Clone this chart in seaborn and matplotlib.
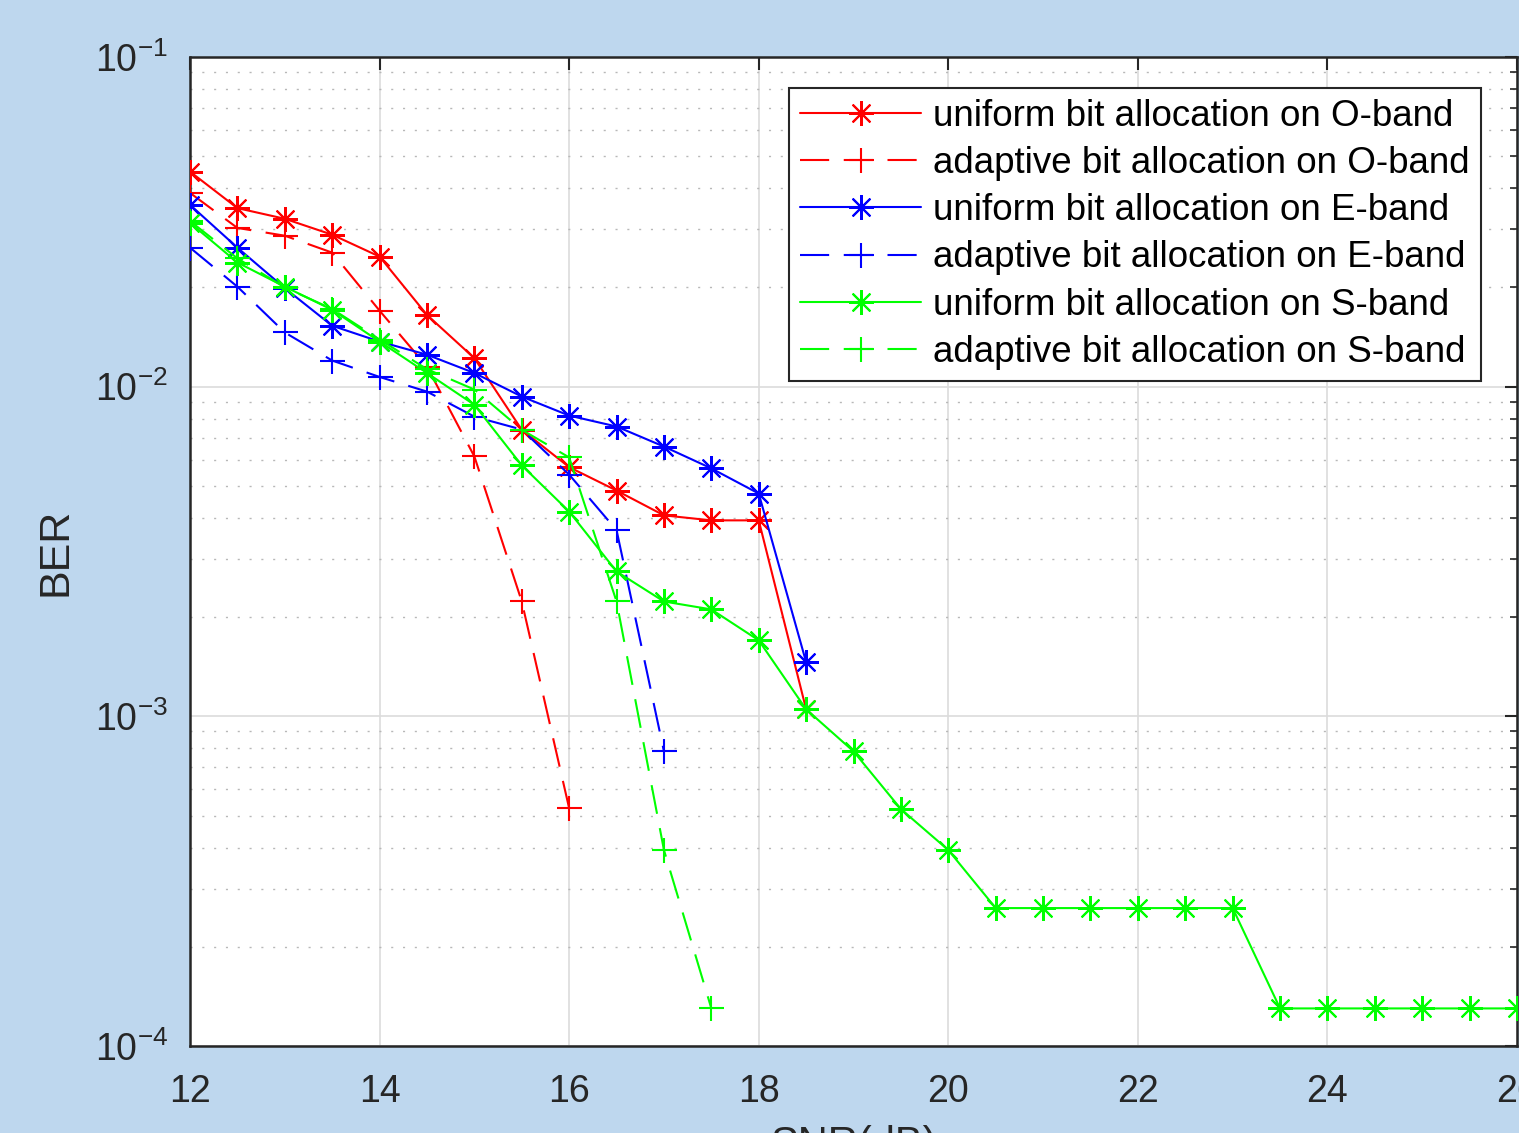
import numpy as np
import pandas as pd
import seaborn as sns
import matplotlib.pyplot as plt
from matplotlib.ticker import LogLocator, FixedLocator

# SNR grids
snr_short = [12, 12.5, 13, 13.5, 14, 14.5, 15, 15.5, 16, 16.5, 17, 17.5, 18, 18.5]
snr_long = [12, 12.5, 13, 13.5, 14, 14.5, 15, 15.5, 16, 16.5, 17, 17.5, 18, 18.5,
            19, 19.5, 20, 20.5, 21, 21.5, 22, 22.5, 23, 23.5, 24, 24.5, 25, 25.5, 26]

# BER
ber_uni_o = [0.0449, 0.0348, 0.0323, 0.0289, 0.0248, 0.0165, 0.0122, 0.0074,
             0.0057, 0.00484, 0.00407, 0.00393, 0.00393, 0.00105]
ber_ada_o = [0.0387, 0.0303, 0.0287, 0.0255, 0.0170, 0.0115, 0.00614, 0.00223, 0.000526]
ber_uni_e = [0.0356, 0.0264, 0.0199, 0.0153, 0.0137, 0.0125, 0.0110, 0.00933,
             0.00817, 0.00757, 0.00658, 0.00565, 0.00474, 0.00146]
ber_ada_e = [0.0264, 0.0201, 0.0146, 0.0120, 0.0107, 0.00966, 0.00811, 0.00741,
             0.00541, 0.00367, 0.000783]
ber_uni_s = [0.0314, 0.0238, 0.0201, 0.0171, 0.0137, 0.0110, 0.00881, 0.00577,
             0.00418, 0.00275, 0.00223, 0.00211, 0.00170, 0.00105, 0.000783,
             0.000523, 0.000393, 0.000262, 0.000262, 0.000262, 0.000262, 0.000262,
             0.000262, 0.000130, 0.000130, 0.000130, 0.000130, 0.000130, 0.000130]
ber_ada_s = [0.0318, 0.0245, 0.0200, 0.0172, 0.0139, 0.0113, 0.0098, 0.0074,
             0.0061, 0.00223, 0.000393, 0.000130]

labels = ['uniform bit allocation on O-band', 'adaptive bit allocation on O-band',
          'uniform bit allocation on E-band', 'adaptive bit allocation on E-band',
          'uniform bit allocation on S-band', 'adaptive bit allocation on S-band']

series = [
    (snr_short, ber_uni_o, '#ff0000', 'solid'),
    (snr_short[:len(ber_ada_o)], ber_ada_o, '#ff0000', 'dashed'),
    (snr_short, ber_uni_e, '#0000ff', 'solid'),
    (snr_short[:len(ber_ada_e)], ber_ada_e, '#0000ff', 'dashed'),
    (snr_long, ber_uni_s, '#00ff00', 'solid'),
    (snr_short[:len(ber_ada_s)], ber_ada_s, '#00ff00', 'dashed'),
]

sns.set_theme(style='white')
plt.rcParams['font.family'] = ['Liberation Sans', 'DejaVu Sans']
plt.rcParams['mathtext.fontset'] = 'custom'
plt.rcParams['mathtext.rm'] = 'Liberation Sans'
plt.rcParams['mathtext.it'] = 'Liberation Sans:italic'
plt.rcParams['mathtext.default'] = 'regular'
plt.rcParams['axes.unicode_minus'] = False

bg = '#bed7ee'
dark = '#262626'

fig = plt.figure(figsize=(15.19, 11.33), dpi=100, facecolor=bg)
ax = fig.add_axes([0.1251, 0.0768, 0.8736, 0.8729])
ax.set_facecolor('white')

for (x, y, col, ls), lab in zip(series, labels):
    df = pd.DataFrame({'SNR': x, 'BER': y})
    marker = (8, 2, 0) if ls == 'solid' else '+'
    dash = '-' if ls == 'solid' else (0, (14, 7))
    sns.lineplot(data=df, x='SNR', y='BER', ax=ax, color=col, label=lab,
                 estimator=None, errorbar=None, linewidth=1.5, linestyle=dash,
                 marker=marker, markersize=18, markeredgecolor=col,
                 markeredgewidth=1.5, zorder=3)

ax.set_yscale('log')
ax.set_xlim(12, 26)
ax.set_ylim(1e-4, 1e-1)
ax.xaxis.set_major_locator(FixedLocator(np.arange(12, 27, 2)))
ax.yaxis.set_major_locator(LogLocator(base=10, numticks=10))
ax.yaxis.set_minor_locator(LogLocator(base=10, subs=np.arange(2, 10), numticks=10))

ax.grid(True, which='major', axis='both', color='#dcdcdc', linewidth=1.2, linestyle='-', zorder=0)
ax.grid(True, which='minor', axis='y', color='#b8b8b8', linewidth=1.0,
        linestyle=(0, (1.5, 7)), zorder=0)
ax.set_axisbelow(True)

ax.tick_params(which='both', direction='in', top=True, right=True, colors=dark)
ax.tick_params(which='major', length=9, width=1.5, labelsize=27)
ax.tick_params(axis='y', which='major', pad=16)
ax.tick_params(axis='x', which='major', pad=20)
ax.tick_params(which='minor', length=5, width=1.2)
ax.tick_params(axis='x', which='minor', bottom=False, top=False)
for sp in ax.spines.values():
    sp.set_color(dark)
    sp.set_linewidth(1.8)

ax.set_xlabel('SNR(dB)', fontsize=30, color=dark, labelpad=11)
ax.set_ylabel('BER', fontsize=31, color=dark, labelpad=14)

leg = ax.legend(loc='upper right', bbox_to_anchor=(0.9729, 0.9687), borderaxespad=0,
                fontsize=26.5, frameon=True, fancybox=False, framealpha=1,
                edgecolor=dark, handlelength=3.3, handletextpad=0.33,
                labelspacing=0.33, borderpad=0.3)
leg.get_frame().set_linewidth(1.5)
for t in leg.get_texts():
    t.set_color('black')

fig.savefig('out.png', dpi=100, facecolor=bg)
